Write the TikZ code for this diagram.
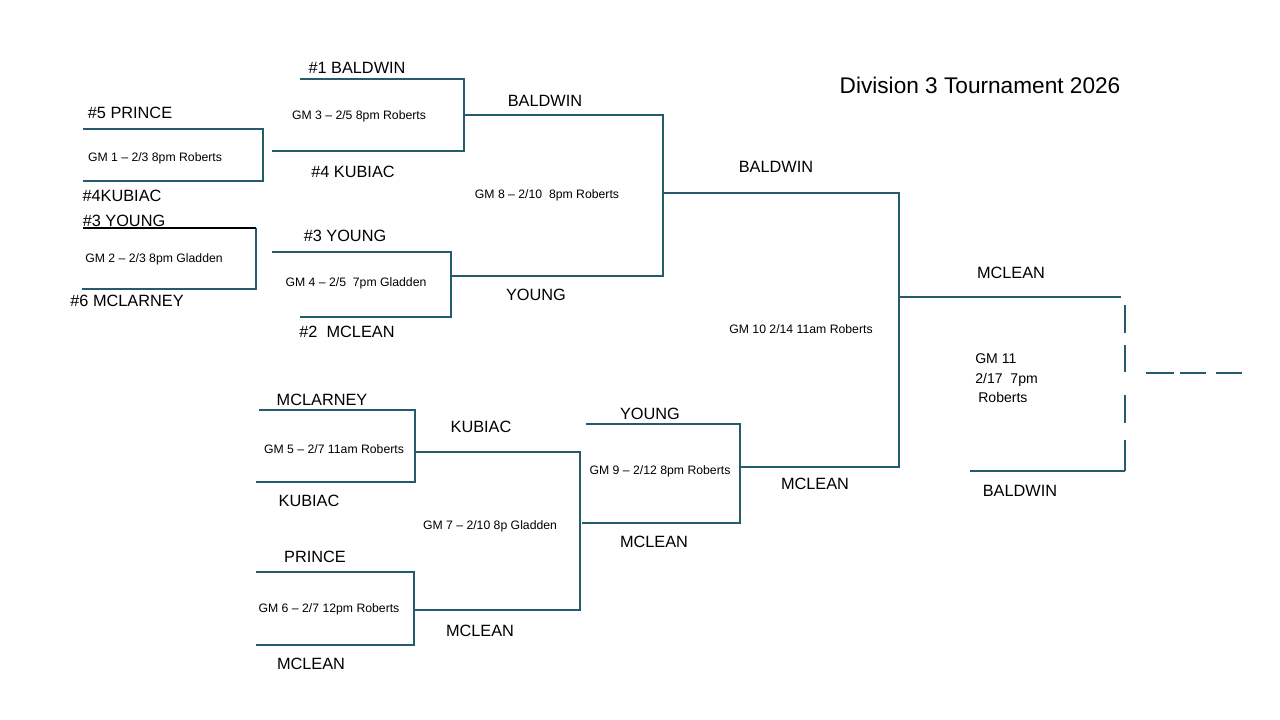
\documentclass[tikz,border=0pt]{standalone}
\usepackage{fontspec}
\setmainfont{Liberation Sans}
\usetikzlibrary{calc}
\definecolor{brk}{HTML}{265A6D}

\begin{document}
\begin{tikzpicture}[x=0.025cm,y=-0.025cm,
  bline/.style={brk,line width=1.6pt},
  team/.style={anchor=base,inner sep=0pt,font=\fontsize{11.6}{13}\selectfont},
  game/.style={anchor=base,inner sep=0pt,font=\fontsize{8.7}{10}\selectfont}]
\useasboundingbox (0,0) rectangle (1280,720);
% title
\node[anchor=base,inner sep=0pt,font=\fontsize{16.1}{19}\selectfont] (title) at (980,94) {Division 3 Tournament 2026};
% first round
\draw[bline] (83,129) -- (263,129) -- (263,181) -- (83,181);
\node[team] (prince5) at (130,119) {\#5 PRINCE};
\node[game] (gm1) at (155,162) {GM 1 -- 2/3 8pm Roberts};
\node[team] (kubiac4a) at (122,202) {\#4KUBIAC};
\draw[bline] (256,228) -- (256,289) -- (82,289);
\draw[black,line width=1.6pt] (83,228) -- (256,228);
\node[team] (young3a) at (124,227) {\#3 YOUNG};
\node[game] (gm2) at (154,263) {GM 2 -- 2/3 8pm Gladden};
\node[team] (mclarney6) at (127,307) {\#6 MCLARNEY};
% quarter finals
\draw[bline] (300,79) -- (464,79) -- (464,151) -- (272,151);
\node[team] (baldwin1) at (357,74) {\#1 BALDWIN};
\node[game] (gm3) at (359,120) {GM 3 -- 2/5 8pm Roberts};
\node[team] (kubiac4b) at (353,178) {\#4 KUBIAC};
\draw[bline] (272,252) -- (451,252) -- (451,317) -- (300,317);
\node[team] (young3b) at (345,242) {\#3 YOUNG};
\node[game] (gm4) at (356,287) {GM 4 -- 2/5\ \ 7pm Gladden};
\node[team] (mclean2) at (347,338) {\#2\ \ MCLEAN};
% semi final
\draw[bline] (464,115) -- (663,115) -- (663,276) -- (451,276);
\node[team] (baldwinA) at (545,107) {BALDWIN};
\node[game] (gm8) at (547,199) {GM 8 -- 2/10\ \ 8pm Roberts};
\node[team] (youngA) at (536,301) {YOUNG};
% lower bracket
\draw[bline] (259,410) -- (415,410) -- (415,482) -- (256,482);
\node[team] (mclarneyB) at (322,406) {MCLARNEY};
\node[game] (gm5) at (334,453) {GM 5 -- 2/7 11am Roberts};
\node[team] (kubiacB) at (309,506) {KUBIAC};
\draw[bline] (256,572) -- (414,572) -- (414,645) -- (256,645);
\node[team] (princeB) at (315,562) {PRINCE};
\node[game] (gm6) at (329,612) {GM 6 -- 2/7 12pm Roberts};
\node[team] (mcleanB) at (311,669) {MCLEAN};
\draw[bline] (415,452) -- (580,452) -- (580,610) -- (415,610);
\node[team] (kubiacC) at (481,433) {KUBIAC};
\node[game] (gm7) at (490,529) {GM 7 -- 2/10 8p Gladden};
\node[team] (mcleanC) at (480,636) {MCLEAN};
\draw[bline] (586,424) -- (740,424) -- (740,523) -- (582,523);
\node[team] (youngD) at (650,419) {YOUNG};
\node[game] (gm9) at (660,474) {GM 9 -- 2/12 8pm Roberts};
\node[team] (mcleanD) at (654,547) {MCLEAN};
% final rounds
\draw[bline] (663,193) -- (899,193) -- (899,467) -- (740,467);
\node[team] (baldwinE) at (776,173) {BALDWIN};
\node[game] (gm10) at (801,334) {GM 10 2/14 11am Roberts};
\node[team] (mcleanE) at (815,489) {MCLEAN};
\draw[bline] (899,297) -- (1121,297);
\draw[bline] (970,471) -- (1125,471);
\foreach \a/\b in {305/333,345/372,395/423,440/471}
  \draw[bline] (1125,\a) -- (1125,\b);
\foreach \a/\b in {1146/1174,1180/1206,1216/1242}
  \draw[bline] (\a,373) -- (\b,373);
\node[team] (mcleanF) at (1011,279) {MCLEAN};
\node[team] (baldwinF) at (1020,496) {BALDWIN};
\node[anchor=base west,inner sep=0pt,font=\fontsize{10}{13.8}\selectfont] (gm11a) at (975,364) {GM 11};
\node[anchor=base west,inner sep=0pt,font=\fontsize{10}{13.8}\selectfont] (gm11b) at (975,384) {2/17\ \ 7pm};
\node[anchor=base west,inner sep=0pt,font=\fontsize{10}{13.8}\selectfont] (gm11c) at (978,403) {Roberts};
\end{tikzpicture}
\end{document}
